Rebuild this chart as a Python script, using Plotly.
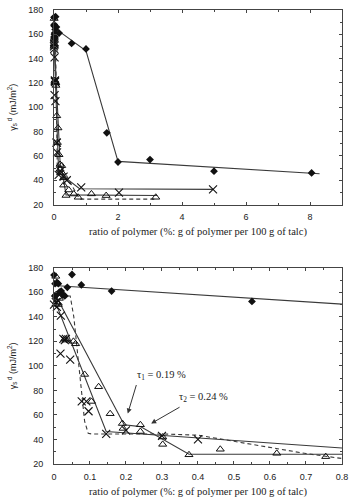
import plotly.graph_objects as go

# ---- data ----
dia_x = [0.0, 0.003, 0.008, 0.012, 0.002, 0.006, 0.015, 0.02, 0.025, 0.03, 0.037, 0.05, 0.076, 0.16, 0.55, 1.0, 1.65, 2.0, 3.0, 5.0, 8.05]
dia_y = [174, 167, 168, 167, 157, 158, 160, 161, 158, 157, 164, 174.5, 166, 161, 152.5, 148, 79, 55, 57, 47.5, 46]

crs_x = [0.0, 0.005, 0.008, 0.012, 0.019, 0.018, 0.026, 0.03, 0.033, 0.045, 0.077, 0.09, 0.096, 0.145, 0.2, 0.3, 0.4, 0.85, 2.03, 4.97]
crs_y = [150, 152, 148, 153, 141, 110, 122, 121, 122, 105, 71, 71, 63, 44.5, 47.5, 43, 40, 34.2, 29.8, 32.5]

tri_x = [0.005, 0.008, 0.012, 0.015, 0.03, 0.035, 0.054, 0.06, 0.085, 0.104, 0.124, 0.156, 0.19, 0.192, 0.24, 0.24, 0.302, 0.302, 0.375, 0.462, 0.619, 0.755, 1.17, 1.63, 3.18]
tri_y = [173, 152, 150, 155, 122, 121, 120, 118, 93, 71, 83, 61, 53, 49, 52, 46.5, 42, 36, 27.5, 32, 28.7, 26, 28.8, 27.4, 26]

dia_line_x = [0, 1.0, 2.0, 8.3]
dia_line_y = [165.5, 146.5, 55.5, 45.3]
crs_line_x = [0, 0.145, 0.8, 4.97]
crs_line_y = [155, 46.5, 33, 32.5]
tri_line_x = [0, 0.195, 0.24, 0.375, 3.23]
tri_line_y = [160, 52, 50.5, 28, 27.5]
dash_x = [0, 0.045, 0.055, 0.065, 0.075, 0.085, 0.095, 0.105, 0.3, 0.4, 0.5, 0.6, 0.7, 0.8, 3.2]
dash_y = [157, 157, 140, 110, 80, 55, 45, 44.5, 44.5, 43.5, 38.5, 33.5, 28.5, 24.5, 24.5]

x_title = "ratio of polymer (%: g of polymer per 100 g of talc)"
y_title = "γ<sub>s</sub><sup> d</sup> (mJ/m<sup>2</sup>)"

LINE = "#3a3a3a"
MK = "#111111"

fig = go.Figure()


def add_panel(xa, ya, xmax):
    def filt(xs, ys):
        pts = [(a, b) for a, b in zip(xs, ys) if a <= xmax]
        return [p[0] for p in pts], [p[1] for p in pts]

    for lx, ly, dash in [(dia_line_x, dia_line_y, "solid"), (crs_line_x, crs_line_y, "solid"),
                         (tri_line_x, tri_line_y, "solid"), (dash_x, dash_y, "dash")]:
        fig.add_trace(go.Scatter(x=lx, y=ly, mode="lines", xaxis=xa, yaxis=ya,
                                 line=dict(color=LINE, width=1.1, dash="4px,3px" if dash == "dash" else "solid"),
                                 showlegend=False, hoverinfo="skip"))
    x, y = filt(tri_x, tri_y)
    fig.add_trace(go.Scatter(x=x, y=y, mode="markers", xaxis=xa, yaxis=ya, cliponaxis=False,
                             marker=dict(symbol="triangle-up-open", size=7, color=MK, line=dict(width=1, color=MK)),
                             showlegend=False))
    x, y = filt(crs_x, crs_y)
    fig.add_trace(go.Scatter(x=x, y=y, mode="markers", xaxis=xa, yaxis=ya, cliponaxis=False,
                             marker=dict(symbol="x-thin-open", size=8, color=MK, line=dict(width=1.1, color=MK)),
                             showlegend=False))
    x, y = filt(dia_x, dia_y)
    fig.add_trace(go.Scatter(x=x, y=y, mode="markers", xaxis=xa, yaxis=ya, cliponaxis=False,
                             marker=dict(symbol="diamond", size=6, color=MK, line=dict(width=0)),
                             showlegend=False))


add_panel("x", "y", 9)
add_panel("x2", "y2", 0.8)

tickfont = dict(family="Liberation Sans, Arial, sans-serif", size=9, color="#222")
titlefont = dict(family="Liberation Serif, Times New Roman, serif", size=10.5, color="#222")

common_x = dict(showline=True, linecolor="#444", linewidth=1, mirror="ticks", ticks="inside",
                ticklen=3, tickcolor="#444", tickfont=tickfont, showgrid=False, zeroline=False,
                ticklabelstandoff=4, ticklabeloverflow="allow",
                title=dict(text=x_title, font=titlefont, standoff=6))
common_y = dict(showline=True, linecolor="#444", linewidth=1, mirror="ticks", ticks="inside",
                ticklen=3, tickcolor="#444", tickfont=tickfont, showgrid=False, zeroline=False,
                range=[20, 180], dtick=20, tick0=20, ticklabelstandoff=8,
                minor=dict(dtick=10, ticks="inside", ticklen=2, tickcolor="#444"),
                title=dict(text=y_title, font=dict(family="Liberation Sans, Arial, sans-serif", size=9, color="#222"), standoff=10))

fig.update_layout(
    width=353, height=503,
    margin=dict(l=54, r=5, t=9, b=39),
    paper_bgcolor="white", plot_bgcolor="white",
    xaxis=dict(common_x, domain=[0, 1], anchor="y", range=[0, 9], dtick=2, tick0=0,
               minor=dict(dtick=1, ticks="inside", ticklen=2, tickcolor="#444")),
    yaxis=dict(common_y, domain=[0.5714, 1], anchor="x"),
    xaxis2=dict(common_x, domain=[0, 1], anchor="y2", range=[0, 0.8002], dtick=0.1, tick0=0,
                minor=dict(dtick=0.05, ticks="inside", ticklen=2, tickcolor="#444")),
    yaxis2=dict(common_y, domain=[0, 0.4323], anchor="x2"),
)

ann_font = dict(family="Liberation Serif, Times New Roman, serif", size=10.5, color="#222")
fig.add_annotation(xref="x2", yref="y2", x=0.298, y=92.4, text="τ<sub>1</sub> = 0.19 %",
                   showarrow=False, font=ann_font)
fig.add_annotation(xref="x2", yref="y2", x=0.416, y=73.9, text="τ<sub>2</sub> = 0.24 %",
                   showarrow=False, font=ann_font)
fig.add_annotation(xref="x2", yref="y2", x=0.205, y=61.2, ax=0.23, ay=85.6, axref="x2", ayref="y2",
                   text="", showarrow=True, arrowhead=2, arrowsize=1, arrowwidth=1, arrowcolor="#333")
fig.add_annotation(xref="x2", yref="y2", x=0.27, y=53, ax=0.353, ay=67, axref="x2", ayref="y2",
                   text="", showarrow=True, arrowhead=2, arrowsize=1, arrowwidth=1, arrowcolor="#333")

fig.write_html("out.html")
